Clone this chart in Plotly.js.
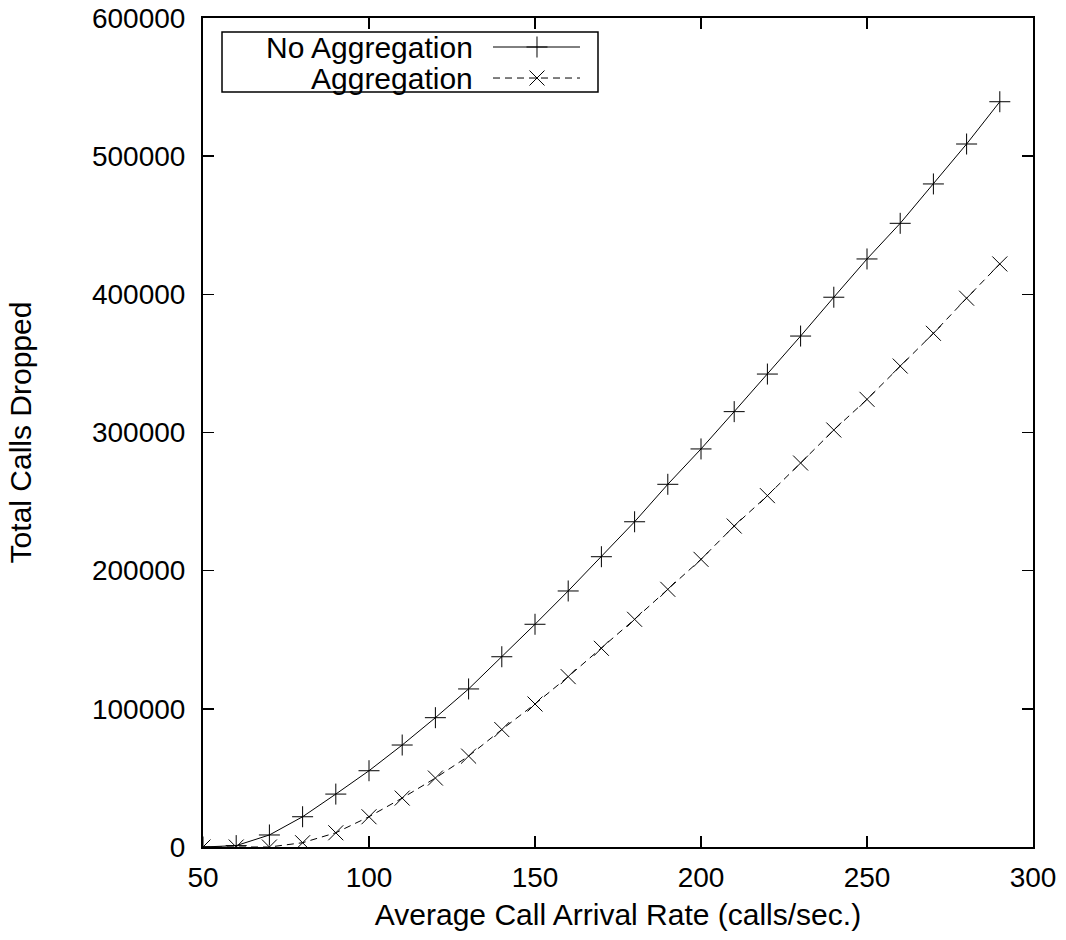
<!DOCTYPE html>
<html>
<head>
<meta charset="utf-8">
<script src="https://cdn.plot.ly/plotly-3.0.1.min.js"></script>
<style>html,body{margin:0;padding:0;background:#fff;}#chart{width:1066px;height:940px;}</style>
</head>
<body>
<div id="chart"></div>
<script>
// Data
const arrivalRate = [50,60,70,80,90,100,110,120,130,140,150,160,170,180,190,200,210,220,230,240,250,260,270,280,290];
const noAggregation = [0,1000,8700,21900,38300,55200,73800,93600,114400,137700,161200,185300,210100,235400,262500,288100,315100,342300,369800,397900,425600,451400,479900,508800,539400];
const aggregation = [0,0,0,3100,10300,21900,35400,49900,65800,85000,103500,123300,143800,164800,186500,208200,232300,254300,277900,301800,324000,348100,371800,397200,422000];
const seriesNames = ["No Aggregation", "Aggregation"];
const xTitle = "Average Call Arrival Rate (calls/sec.)";
const yTitle = "Total Calls Dropped";

const FONT = '"Liberation Sans", Arial, sans-serif';
const TICKSIZE = 28, TEXTSIZE = 30;
const markerPlus = {symbol:'cross-thin-open', size:15, color:'#000', line:{color:'#000', width:1}};
const markerX = {symbol:'x-thin-open', size:15, color:'#000', line:{color:'#000', width:1}};

// legend sample geometry (overlay axis, 0..1)
const legX0 = 0.3494, legX1 = 0.4542, legXm = 0.4024;
const legY = [0.965, 0.9276];

const traces = [
  {x: arrivalRate, y: noAggregation, mode:'lines+markers', name: seriesNames[0],
   line:{color:'#000', width:1}, marker: markerPlus, showlegend:false, hoverinfo:'skip'},
  {x: arrivalRate, y: aggregation, mode:'lines+markers', name: seriesNames[1],
   line:{color:'#000', width:1, dash:'7px,5px'}, marker: markerX, showlegend:false, hoverinfo:'skip'},
  // legend samples
  {x:[legX0, legX1], y:[legY[0], legY[0]], xaxis:'x2', yaxis:'y2', mode:'lines',
   line:{color:'#000', width:1}, showlegend:false, hoverinfo:'skip'},
  {x:[legXm], y:[legY[0]], xaxis:'x2', yaxis:'y2', mode:'markers',
   marker: markerPlus, showlegend:false, hoverinfo:'skip'},
  {x:[legX0, legX1], y:[legY[1], legY[1]], xaxis:'x2', yaxis:'y2', mode:'lines',
   line:{color:'#000', width:1, dash:'7px,5px'}, showlegend:false, hoverinfo:'skip'},
  {x:[legXm], y:[legY[1]], xaxis:'x2', yaxis:'y2', mode:'markers',
   marker: markerX, showlegend:false, hoverinfo:'skip'}
];

const layout = {
  width:1066, height:940,
  margin:{l:203, r:33, t:18, b:93, pad:0},
  paper_bgcolor:'#fff', plot_bgcolor:'#fff',
  font:{family:FONT, size:TICKSIZE, color:'#000'},
  showlegend:false,
  xaxis:{
    range:[50,300], dtick:50, tick0:50, showgrid:false, zeroline:false,
    showline:true, linecolor:'#000', linewidth:2, mirror:'allticks',
    ticks:'inside', ticklen:11, tickwidth:1.5, tickcolor:'#000',
    ticklabelstandoff:4, tickfont:{family:FONT, size:TICKSIZE, color:'#000'},
    title:{text:xTitle, standoff:12, font:{family:FONT, size:TEXTSIZE, color:'#000'}}
  },
  yaxis:{
    range:[0,600000], dtick:100000, tickformat:'d', showgrid:false, zeroline:false,
    showline:true, linecolor:'#000', linewidth:2, mirror:'allticks',
    ticks:'inside', ticklen:11, tickwidth:1.5, tickcolor:'#000',
    ticklabelstandoff:10, tickfont:{family:FONT, size:TICKSIZE, color:'#000'},
    title:{text:yTitle, standoff:51, font:{family:FONT, size:TEXTSIZE, color:'#000'}}
  },
  xaxis2:{overlaying:'x', range:[0,1], visible:false, fixedrange:true},
  yaxis2:{overlaying:'y', range:[0,1], visible:false, fixedrange:true},
  shapes:[
    {type:'rect', xref:'paper', yref:'paper', x0:0.0229, x1:0.4759, y0:0.9107, y1:0.9831,
     line:{color:'#000', width:1.5}, fillcolor:'rgba(0,0,0,0)'}
  ],
  annotations:[
    {xref:'paper', yref:'paper', x:0.3277, y:legY[0], xanchor:'right', yanchor:'middle',
     text:seriesNames[0], showarrow:false, font:{family:FONT, size:TEXTSIZE, color:'#000'}},
    {xref:'paper', yref:'paper', x:0.3277, y:legY[1], xanchor:'right', yanchor:'middle',
     text:seriesNames[1], showarrow:false, font:{family:FONT, size:TEXTSIZE, color:'#000'}}
  ]
};

Plotly.newPlot('chart', traces, layout, {staticPlot:true, displayModeBar:false});
</script>
</body>
</html>
